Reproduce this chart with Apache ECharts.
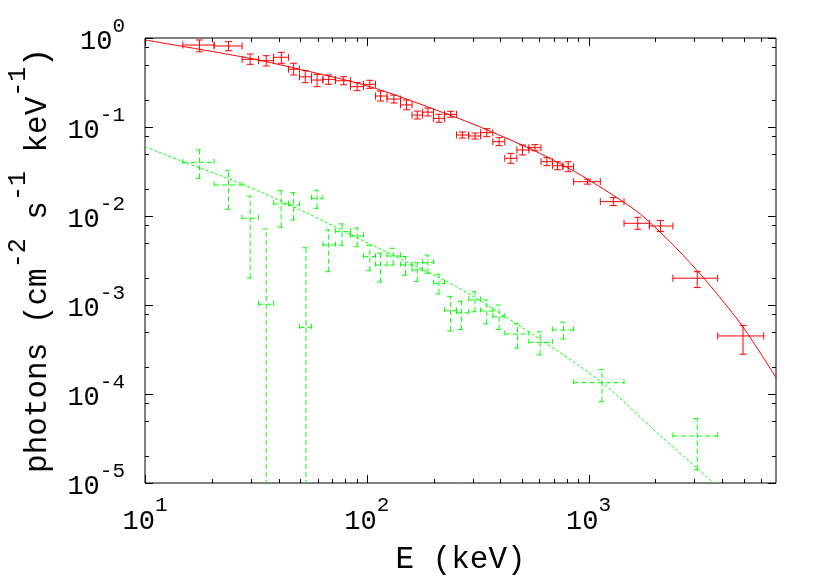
<!DOCTYPE html>
<html>
<head>
<meta charset="utf-8">
<title>photon spectrum</title>
<script src="https://cdn.jsdelivr.net/npm/echarts@6/dist/echarts.min.js"></script>
<style>
  html, body { margin: 0; padding: 0; background: #fff; }
  #main { width: 830px; height: 581px; }
</style>
</head>
<body>
<div id="main"></div>
<script>
// red spectrum (E in keV, flux in photons cm^-2 s^-1 keV^-1)
const redE = [17.6, 23.8, 29.8, 35.2, 41.2, 46.8, 52.8, 59.7, 67.3, 78.7, 90.5, 103.2, 115.3, 132.5, 151, 169, 188.6, 211.5, 238.9, 270, 307.6, 347.5, 395, 445.9, 503.7, 572.5, 648.6, 724.8, 809.6, 990, 1293, 1667, 2109, 3090, 4970];
const redF = [0.834, 0.813, 0.576, 0.556, 0.607, 0.445, 0.367, 0.337, 0.343, 0.331, 0.284, 0.302, 0.223, 0.206, 0.177, 0.136, 0.147, 0.125, 0.139, 0.0813, 0.0792, 0.0863, 0.0684, 0.0445, 0.0552, 0.0586, 0.0408, 0.0367, 0.0358, 0.0243, 0.0145, 0.00828, 0.00772, 0.00200, 0.000449];
const redFLo = [0.70, 0.72, 0.506, 0.485, 0.52, 0.384, 0.315, 0.284, 0.302, 0.298, 0.256, 0.272, 0.196, 0.186, 0.156, 0.123, 0.133, 0.113, 0.129, 0.0752, 0.0733, 0.0778, 0.0617, 0.0391, 0.0485, 0.0542, 0.0368, 0.0331, 0.0315, 0.0228, 0.0131, 0.00709, 0.00669, 0.00157, 0.00028];
const redFHi = [0.95, 0.91, 0.661, 0.633, 0.69, 0.52, 0.43, 0.39, 0.384, 0.367, 0.315, 0.335, 0.254, 0.228, 0.201, 0.151, 0.163, 0.139, 0.150, 0.0879, 0.0856, 0.0957, 0.0759, 0.0506, 0.0628, 0.0633, 0.0452, 0.0407, 0.0407, 0.0259, 0.0161, 0.00967, 0.00891, 0.00237, 0.00059];
const redELo = [14.8, 20.5, 27.4, 32.5, 38, 44.4, 49.7, 56.3, 63.4, 72.2, 84.4, 96.6, 109.5, 123.4, 142, 160, 178.5, 200, 224, 254, 288, 326, 370, 419, 475, 538, 610, 687, 766, 856, 1130, 1445, 1880, 2400, 3820];
const redEHi = [20.5, 27.4, 32.5, 38, 44.4, 49.7, 56.3, 63.4, 72.2, 84.4, 96.6, 109.5, 123.4, 142, 160, 178.5, 200, 224, 254, 288, 326, 370, 419, 475, 538, 610, 687, 766, 856, 1130, 1445, 1880, 2400, 3820, 6160];

// green spectrum
const greenE = [17.6, 23.8, 29.8, 35.2, 41.1, 46.8, 53.2, 59.7, 67.3, 77.4, 90.5, 103.2, 115.3, 131.6, 149.5, 169, 188.6, 211.5, 238.9, 267, 307.6, 347.5, 395, 478.4, 605, 771.6, 1150, 3090];
const greenF = [0.0401, 0.0223, 0.00942, 0.00102, 0.01364, 0.0133, 0.00056, 0.0158, 0.00472, 0.00667, 0.00596, 0.00349, 0.00281, 0.00355, 0.00281, 0.00247, 0.00299, 0.00175, 0.000863, 0.000819, 0.00114, 0.000857, 0.000739, 0.000472, 0.000381, 0.000524, 0.000134, 0.0000337];
const greenFLo = [0.0265, 0.0119, 0.00201, 1e-7, 0.00746, 0.00902, 1e-7, 0.0122, 0.00237, 0.00469, 0.00452, 0.00243, 0.00181, 0.00281, 0.00216, 0.00184, 0.00227, 0.00133, 0.00051, 0.00053, 0.00084, 0.000614, 0.00053, 0.000328, 0.000275, 0.000414, 0.000082, 0.0000141];
const greenFHi = [0.0553, 0.0323, 0.0167, 0.00716, 0.0192, 0.0183, 0.0044, 0.0195, 0.00696, 0.00815, 0.00731, 0.00469, 0.00383, 0.00434, 0.00351, 0.00298, 0.00364, 0.00222, 0.00125, 0.0011, 0.00141, 0.00114, 0.001, 0.000614, 0.0005, 0.00064, 0.000188, 0.000053];
const greenELo = [14.8, 20.5, 27.4, 32.5, 38, 44.4, 49.7, 56.3, 63.4, 72.2, 84.4, 96.6, 109.5, 123.4, 142, 160, 178.5, 200, 224, 254, 288, 326, 370, 419, 538, 687, 856, 2400];
const greenEHi = [20.5, 27.4, 32.5, 38, 44.4, 49.7, 56.3, 63.4, 72.2, 84.4, 96.6, 109.5, 123.4, 142, 160, 178.5, 200, 224, 254, 288, 326, 370, 419, 538, 687, 856, 1445, 3820];

// model curves
const redModelE = [10, 29.8, 50.2, 103.3, 238.9, 350, 568, 750, 991, 1554, 1881, 2483, 3333, 4970, 7030];
const redModelF = [0.95, 0.591, 0.443, 0.284, 0.135, 0.0925, 0.0544, 0.0384, 0.0259, 0.0126, 0.00856, 0.00437, 0.00196, 0.000566, 0.00015];
const greenModelE = [10, 14.9, 26.9, 50.2, 107.6, 215, 294, 610, 1150, 2050, 3090, 3680];
const greenModelF = [0.0601, 0.0407, 0.0233, 0.0117, 0.0046, 0.00199, 0.0013, 0.000404, 0.000134, 0.0000362, 0.0000146, 0.0000099];

// axis ranges and tick values
const xMin = 10, xMax = 7000;
const yMin = 1e-5, yMax = 1;
const xMajorTicks = [10, 100, 1000];
const xMinorTicks = [20, 30, 40, 50, 60, 70, 80, 90, 200, 300, 400, 500, 600, 700, 800, 900, 2000, 3000, 4000, 5000, 6000];
const yMajorTicks = [1, 0.1, 0.01, 0.001, 0.0001, 0.00001];
const yMinorTicks = [0.8, 0.5, 0.2, 0.08, 0.05, 0.02, 0.008, 0.005, 0.002, 0.0008, 0.0005, 0.0002, 0.00008, 0.00005, 0.00002];

const FONT = 'Liberation Mono';

const zip = (cols) => cols[0].map((_, i) => cols.map(c => c[i]));

function errRender(color, dash) {
  return function (params, api) {
    const e = api.value(0), f = api.value(1);
    const l = api.coord([api.value(2), f]);
    const r = api.coord([api.value(3), f]);
    const b = api.coord([e, api.value(4)]);
    const t = api.coord([e, api.value(5)]);
    const cap = 3.5;
    const style = { stroke: color, lineWidth: 1, lineDash: dash };
    const seg = (x1, y1, x2, y2) => ({ type: 'line', shape: { x1, y1, x2, y2 }, style });
    return {
      type: 'group',
      children: [
        seg(l[0], l[1], r[0], r[1]),
        seg(l[0], l[1] - cap, l[0], l[1] + cap),
        seg(r[0], r[1] - cap, r[0], r[1] + cap),
        seg(b[0], b[1], t[0], t[1]),
        seg(b[0] - cap, b[1], b[0] + cap, b[1]),
        seg(t[0] - cap, t[1], t[0] + cap, t[1])
      ]
    };
  };
}

function xTickRender(params, api) {
  const cs = params.coordSys;
  const x = Math.round(api.coord([api.value(0), yMin])[0]) + 0.5;
  const len = api.value(2) ? 8 : 4;
  const style = { stroke: '#000', lineWidth: 1 };
  return {
    type: 'group',
    children: [
      { type: 'line', shape: { x1: x, y1: cs.y + cs.height, x2: x, y2: cs.y + cs.height - len }, style },
      { type: 'line', shape: { x1: x, y1: cs.y, x2: x, y2: cs.y + len }, style }
    ]
  };
}

function yTickRender(params, api) {
  const cs = params.coordSys;
  const y = Math.round(api.coord([xMin, api.value(1)])[1]) + 0.5;
  const len = api.value(2) ? 8 : 4;
  const style = { stroke: '#000', lineWidth: 1 };
  return {
    type: 'group',
    children: [
      { type: 'line', shape: { x1: cs.x, y1: y, x2: cs.x + len, y2: y }, style },
      { type: 'line', shape: { x1: cs.x + cs.width, y1: y, x2: cs.x + cs.width - len, y2: y }, style }
    ]
  };
}

function powLabel(v) {
  const p = Math.log10(v);
  const e = Math.round(p);
  if (Math.abs(p - e) > 1e-6) return '';
  return '{b|10}{s|' + e + '}';
}

// superscripts: base text centred in a tall line, exponent pinned to its top
const xRich = {
  b: { fontFamily: FONT, fontSize: 27, color: '#000', lineHeight: 54 },
  s: { fontFamily: FONT, fontSize: 21, color: '#000', verticalAlign: 'top' }
};
const yRich = {
  b: { fontFamily: FONT, fontSize: 27, color: '#000', lineHeight: 52 },
  s: { fontFamily: FONT, fontSize: 21, color: '#000', verticalAlign: 'top' }
};
const titleRich = {
  b: { fontFamily: FONT, fontSize: 31, color: '#000', lineHeight: 64 },
  s: { fontFamily: FONT, fontSize: 25, color: '#000', verticalAlign: 'top' }
};

const chart = echarts.init(document.getElementById('main'));

const option = {
  backgroundColor: '#fff',
  animation: false,
  grid: {
    left: 145, right: 54, top: 38, bottom: 98,
    outerBoundsMode: 'none', containLabel: false,
    show: true, borderColor: '#000', borderWidth: 1, backgroundColor: 'transparent'
  },
  xAxis: {
    type: 'log', logBase: 10, min: xMin, max: xMax,
    axisLine: { show: false }, axisTick: { show: false },
    splitLine: { show: false }, minorTick: { show: false },
    axisLabel: { margin: 12, formatter: powLabel, rich: xRich },
    name: '{b|E (keV)}', nameLocation: 'middle', nameGap: 61,
    nameTextStyle: { rich: { b: { fontFamily: FONT, fontSize: 31, color: '#000' } } }
  },
  yAxis: {
    type: 'log', logBase: 10, min: yMin, max: yMax,
    axisLine: { show: false }, axisTick: { show: false },
    splitLine: { show: false }, minorTick: { show: false },
    axisLabel: { margin: 20, formatter: powLabel, rich: yRich, padding: [8, 0, 0, 0] },
    name: '{b|photons (cm}{s|-2}{b| s}{s|-1}{b| keV}{s|-1}{b|)}',
    nameLocation: 'middle', nameRotate: 90, nameGap: 75,
    nameTextStyle: { rich: titleRich }
  },
  series: [
    {
      name: 'red model', type: 'line', smooth: 0.3, showSymbol: false, silent: true,
      data: zip([redModelE, redModelF]),
      lineStyle: { color: '#ff0000', width: 1 }, z: 3
    },
    {
      name: 'green model', type: 'line', smooth: 0.3, showSymbol: false, silent: true,
      data: zip([greenModelE, greenModelF]),
      lineStyle: { color: '#00ff00', width: 1, type: [3, 2] }, z: 3
    },
    {
      name: 'red data', type: 'custom', clip: true, silent: true,
      renderItem: errRender('#ff0000', null),
      encode: { x: 0, y: 1 },
      data: zip([redE, redF, redELo, redEHi, redFLo, redFHi]), z: 4
    },
    {
      name: 'green data', type: 'custom', clip: true, silent: true,
      renderItem: errRender('#00ff00', [5, 3]),
      encode: { x: 0, y: 1 },
      data: zip([greenE, greenF, greenELo, greenEHi, greenFLo, greenFHi]), z: 4
    },
    {
      name: 'x ticks', type: 'custom', silent: true,
      renderItem: xTickRender, encode: { x: 0, y: 1 },
      data: xMajorTicks.map(v => [v, 0.01, 1]).concat(xMinorTicks.map(v => [v, 0.01, 0])), z: 5
    },
    {
      name: 'y ticks', type: 'custom', silent: true,
      renderItem: yTickRender, encode: { x: 0, y: 1 },
      data: yMajorTicks.map(v => [100, v, 1]).concat(yMinorTicks.map(v => [100, v, 0])), z: 5
    }
  ]
};

chart.setOption(option);
</script>
</body>
</html>
